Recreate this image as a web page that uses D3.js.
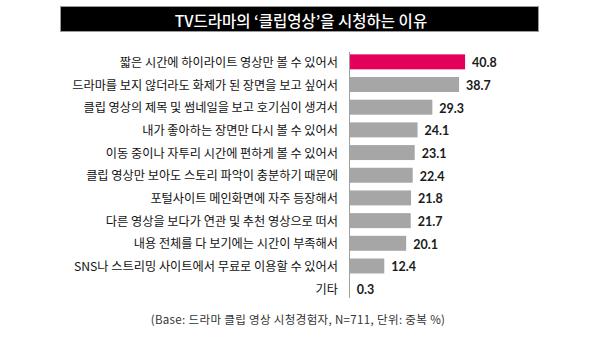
<!DOCTYPE html>
<html><head><meta charset="utf-8">
<script src="https://cdn.jsdelivr.net/npm/d3@7"></script>
<style>
html,body{margin:0;padding:0;background:#fff;}
svg{display:block;}
</style></head>
<body><svg id="c" width="600" height="345"></svg>
<script>
const titleText = "TV드라마의 ‘클립영상’을 시청하는 이유";
const categories = [
  "짧은 시간에 하이라이트 영상만 볼 수 있어서",
  "드라마를 보지 않더라도 화제가 된 장면을 보고 싶어서",
  "클립 영상의 제목 및 썸네일을 보고 호기심이 생겨서",
  "내가 좋아하는 장면만 다시 볼 수 있어서",
  "이동 중이나 자투리 시간에 편하게 볼 수 있어서",
  "클립 영상만 보아도 스토리 파악이 충분하기 때문에",
  "포털사이트 메인화면에 자주 등장해서",
  "다른 영상을 보다가 연관 및 추천 영상으로 떠서",
  "내용 전체를 다 보기에는 시간이 부족해서",
  "SNS나 스트리밍 사이트에서 무료로 이용할 수 있어서",
  "기타"
];
const values = [40.8, 38.7, 29.3, 24.1, 23.1, 22.4, 21.8, 21.7, 20.1, 12.4, 0.3];
const valueLabels = ["40.8","38.7","29.3","24.1","23.1","22.4","21.8","21.7","20.1","12.4","0.3"];
const footnote = "(Base: 드라마 클립 영상 시청경험자, N=711, 단위: 중복 %)";

const svg = d3.select("#c");
const kfont = "'Noto Sans CJK KR','Noto Sans',sans-serif";

// title box
svg.append("rect").attr("x",60.5).attr("y",6.5).attr("width",478).attr("height",25)
  .attr("fill","#000").attr("stroke","#9a9a9a").attr("stroke-width",1);
svg.append("text").attr("x",301).attr("y",19.5).attr("text-anchor","middle")
  .attr("dominant-baseline","central").attr("fill","#fff")
  .attr("font-family",kfont).attr("font-size",15.5).attr("font-weight",500)
  .text(titleText);

const x = d3.scaleLinear().domain([0,45]).range([349,477]);
const y = d3.scaleBand().domain(categories).range([50.5,300]).paddingInner(0.34).paddingOuter(0.17);

const g = svg.append("g");
g.selectAll("rect.bar").data(values).join("rect").attr("class","bar")
  .attr("x",x(0)).attr("y",(d,i)=>y(categories[i]))
  .attr("width",d=>x(d)-x(0)).attr("height",y.bandwidth())
  .attr("fill",(d,i)=>i===0?"#e4005a":"#a6a6a6");

// axis line
svg.append("line").attr("x1",349.5).attr("x2",349.5).attr("y1",52).attr("y2",298)
  .attr("stroke","#a0a0a0").attr("stroke-width",1);

// category labels
g.selectAll("text.cat").data(categories).join("text").attr("class","cat")
  .attr("x",338).attr("y",d=>y(d)+y.bandwidth()/2)
  .attr("text-anchor","end").attr("dominant-baseline","central")
  .attr("font-family",kfont).attr("font-size",12.2).attr("fill","#111")
  .text(d=>d);

// value labels
g.selectAll("text.val").data(values).join("text").attr("class","val")
  .attr("x",d=>x(d)+7).attr("y",(d,i)=>y(categories[i])+y.bandwidth()/2+1)
  .attr("dominant-baseline","central")
  .attr("font-family","Lato,'Open Sans',sans-serif").attr("font-size",12.5).attr("font-weight",700)
  .attr("fill","#1a1a1a")
  .text((d,i)=>valueLabels[i]);

svg.append("text").attr("x",298).attr("y",319).attr("text-anchor","middle")
  .attr("dominant-baseline","central")
  .attr("font-family",kfont).attr("font-size",11.5).attr("fill","#333")
  .attr("letter-spacing",0.35)
  .text(footnote);
</script></body></html>
